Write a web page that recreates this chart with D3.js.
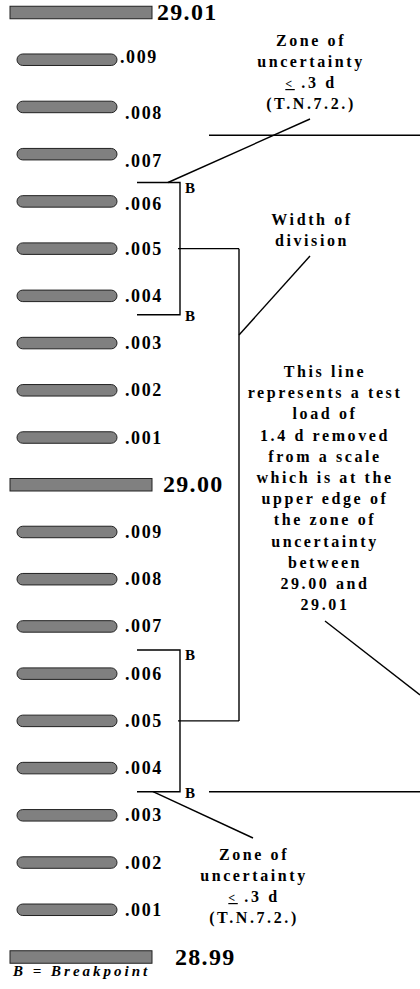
<!DOCTYPE html>
<html>
<head>
<meta charset="utf-8">
<script src="https://cdn.jsdelivr.net/npm/d3@7"></script>
<style>
  body { margin: 0; background: #fff; }
  svg { display: block; }
  text { font-family: "Liberation Serif", "Times New Roman", serif; font-weight: bold; fill: #000; }
</style>
</head>
<body>
<svg></svg>
<script>
// graduations of the scale (values in lb)
const majorValues = [29.01, 29.00, 28.99];
const majorLabels = ['29.01', '29.00', '28.99'];
const minorValues = [29.009, 29.008, 29.007, 29.006, 29.005, 29.004, 29.003, 29.002, 29.001,
                     28.999, 28.998, 28.997, 28.996, 28.995, 28.994, 28.993, 28.992, 28.991];
const minorLabels = ['.009', '.008', '.007', '.006', '.005', '.004', '.003', '.002', '.001',
                     '.009', '.008', '.007', '.006', '.005', '.004', '.003', '.002', '.001'];

// breakpoints (zone of uncertainty) around each .005 division
const zoneMid = [29.005, 28.995];
const zoneHigh = [29.0064, 28.9965];
const zoneLow = [29.0036, 28.9935];

// test load of 1.4 d : upper and lower reading
const testLoad = [29.0074, 28.9935];

const zoneNote = ['Zone of', 'uncertainty', '< .3 d', '(T.N.7.2.)'];
const widthNote = ['Width of', 'division'];
const testNote = ['This line', 'represents a test', 'load of', '1.4 d removed', 'from a scale',
                  'which is at the', 'upper edge of', 'the zone of', 'uncertainty', 'between',
                  '29.00 and', '29.01'];
const legendText = 'B = Breakpoint';

const width = 420, height = 989;
const svg = d3.select('svg').attr('width', width).attr('height', height);

const y = d3.scaleLinear().domain([28.99, 29.01]).range([957, 12.5]);

// small label nudges seen on the original drawing
const majorLabelX = [157, 163, 175];
const minorNudge = { 0: { x: -5, dy: -3 }, 1: { dy: 6.5 }, 2: { dy: 7 }, 3: { dy: 2.5 } };

//major graduations
svg.selectAll('rect.major').data(majorValues)
    .enter().append('rect')
    .attr('class', 'major')
    .attr('x', 10)
    .attr('y', d => y(d) - 6.25)
    .attr('width', 142)
    .attr('height', 12.5)
    .attr('fill', '#808080')
    .attr('stroke', '#222')
    .attr('stroke-width', 1);

svg.selectAll('text.major').data(majorValues)
    .enter().append('text')
    .attr('class', 'major')
    .attr('x', (d, i) => majorLabelX[i])
    .attr('y', d => y(d) + 7.5)
    .attr('font-size', 24)
    .attr('letter-spacing', 1.3)
    .text((d, i) => majorLabels[i]);

//minor graduations, drawn as pills
svg.selectAll('rect.minor').data(minorValues)
    .enter().append('rect')
    .attr('class', 'minor')
    .attr('x', 17)
    .attr('y', d => y(d) - 5.75)
    .attr('width', 100)
    .attr('height', 11.5)
    .attr('rx', 5.75)
    .attr('fill', '#808080')
    .attr('stroke', '#222')
    .attr('stroke-width', 1);

svg.selectAll('text.minor').data(minorValues)
    .enter().append('text')
    .attr('class', 'minor')
    .attr('x', (d, i) => 125 + ((minorNudge[i] || {}).x || 0))
    .attr('y', (d, i) => y(d) + 6 + ((minorNudge[i] || {}).dy || 0))
    .attr('font-size', 18)
    .attr('letter-spacing', 1.6)
    .text((d, i) => minorLabels[i]);

//breakpoint brackets
const lines = svg.append('g')
    .attr('fill', 'none')
    .attr('stroke', '#000')
    .attr('stroke-width', 1.4);

zoneMid.forEach((m, i) => {
    const hi = y(zoneHigh[i]), lo = y(zoneLow[i]);
    lines.append('path').attr('d', `M137,${hi}H180V${lo}H137`);
    lines.append('path').attr('d', `M178,${y(m)}H239`);
    svg.append('text').attr('x', 185).attr('y', hi + 10).attr('font-size', 15).text('B');
    svg.append('text').attr('x', 185).attr('y', lo + 6).attr('font-size', 15).text('B');
});

// connector joining the two .005 divisions
lines.append('path').attr('d', `M239,${y(zoneMid[0])}V${y(zoneMid[1])}`);

// test load lines
testLoad.forEach(v => {
    lines.append('path').attr('d', `M209,${y(v)}H${width}`);
});

// leader lines to the notes
lines.append('path').attr('d', `M168,${y(zoneHigh[0])}L310,119`);
lines.append('path').attr('d', `M239,335L310,256`);
lines.append('path').attr('d', `M325,621L${width},695`);
lines.append('path').attr('d', `M153,${y(zoneLow[1])}L253,838`);

//centred block of text
const note = (rows, cx, top, step) => {
    rows.forEach((r, i) => {
        const t = svg.append('text')
            .attr('x', cx)
            .attr('y', top + i * step)
            .attr('text-anchor', 'middle')
            .attr('font-size', 16)
            .attr('letter-spacing', 2.6);
        if (r.startsWith('<')) {
            t.append('tspan').attr('font-size', 12).style('text-decoration', 'underline').text('<');
            t.append('tspan').text(r.slice(1));
        } else {
            t.text(r);
        }
    });
};

note(zoneNote, 311, 46, 21);
note(widthNote, 312, 225, 21);
note(testNote, 325, 377, 21.2);
note(zoneNote, 254, 860, 21);

//legend
svg.append('text')
    .attr('x', 13)
    .attr('y', 976)
    .attr('font-size', 15)
    .attr('font-style', 'italic')
    .attr('letter-spacing', 3)
    .text(legendText);
</script>
</body>
</html>
